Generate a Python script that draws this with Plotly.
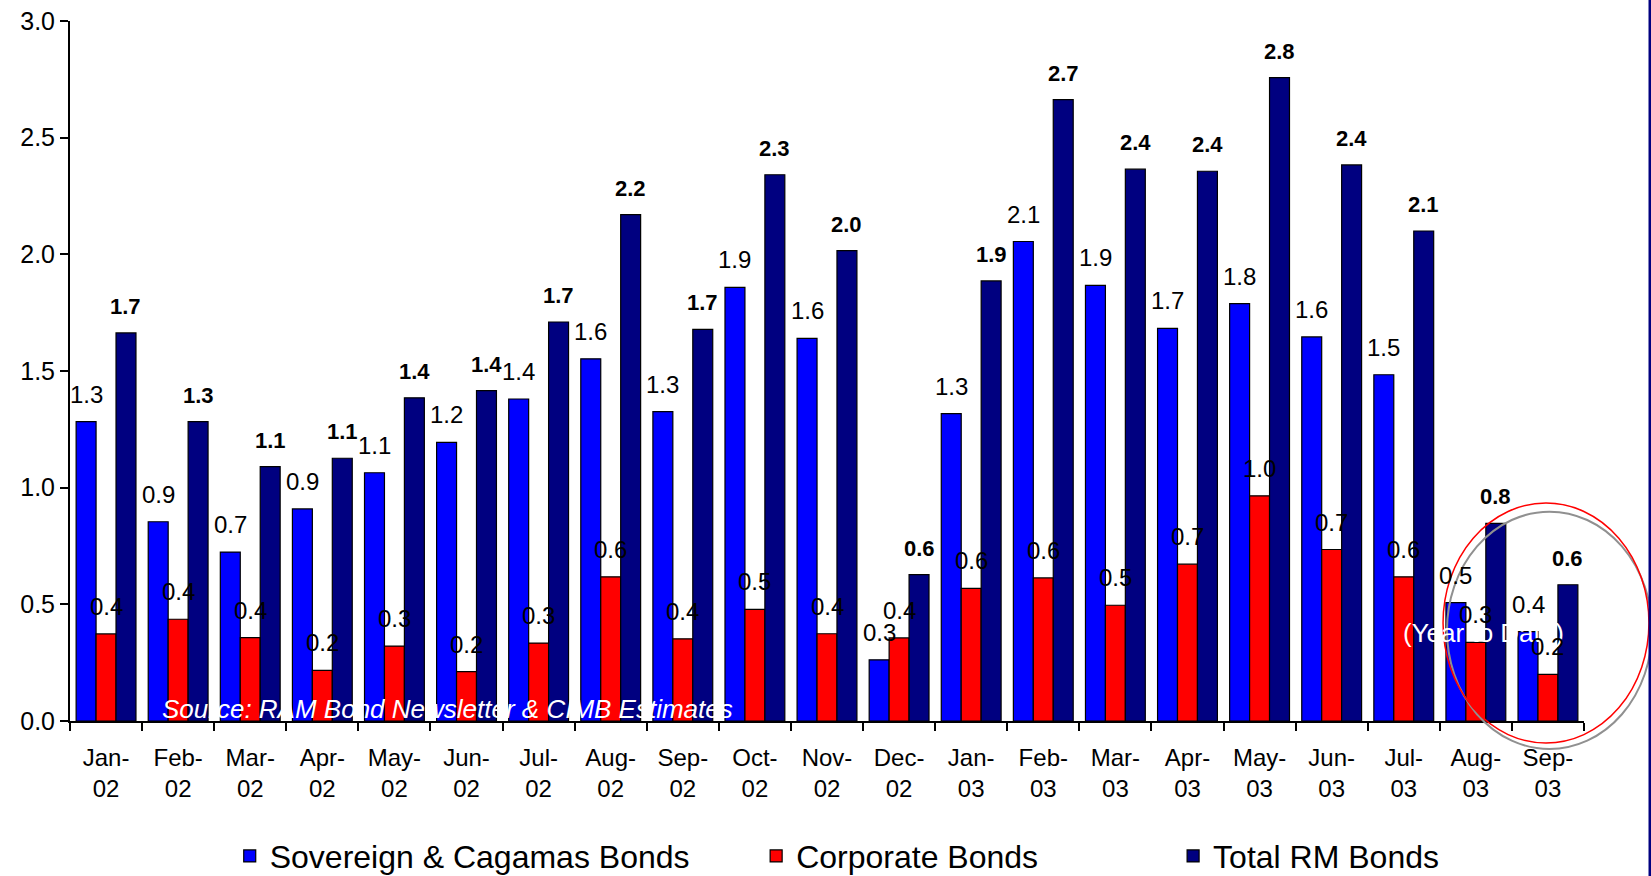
import plotly.graph_objects as go

# Monthly issuance of RM bonds (RM billion)
months = ["Jan-", "Feb-", "Mar-", "Apr-", "May-", "Jun-", "Jul-", "Aug-", "Sep-", "Oct-", "Nov-", "Dec-",
          "Jan-", "Feb-", "Mar-", "Apr-", "May-", "Jun-", "Jul-", "Aug-", "Sep-"]
years = ["02"] * 12 + ["03"] * 9
tick_labels = [f"{m}<br>{y}" for m, y in zip(months, years)]

sovereign = [1.283, 0.854, 0.724, 0.909, 1.064, 1.194, 1.380, 1.552, 1.326, 1.858, 1.640, 0.262,
             1.317, 2.055, 1.867, 1.683, 1.789, 1.646, 1.484, 0.507, 0.383]
corporate = [0.373, 0.436, 0.357, 0.217, 0.321, 0.212, 0.334, 0.618, 0.352, 0.478, 0.374, 0.356,
             0.568, 0.613, 0.496, 0.672, 0.965, 0.735, 0.618, 0.337, 0.200]
total_rm = [1.663, 1.283, 1.090, 1.126, 1.385, 1.416, 1.710, 2.170, 1.678, 2.341, 2.016, 0.627,
            1.886, 2.663, 2.365, 2.356, 2.757, 2.383, 2.100, 0.847, 0.584]

series = [
    ("Sovereign & Cagamas Bonds", sovereign, "#0000FF", "normal", 24, "legend"),
    ("Corporate Bonds", corporate, "#FF0000", "normal", 24, "legend2"),
    ("Total RM Bonds", total_rm, "#000080", "bold", 22, "legend3"),
]

FONT = "Liberation Sans, Arial, sans-serif"
W, H = 1651, 876
M_L, M_R, M_T, M_B = 70, 67, 21, 155
BARGAP = 0.17

idx = list(range(len(months)))
fig = go.Figure()

for name, vals, color, _, _, leg in series:
    fig.add_trace(go.Bar(
        x=idx, y=vals, name=name, legend=leg,
        marker=dict(color=color, line=dict(color="black", width=1.2)),
    ))

# "(Year to Date)" note, drawn under the value labels
fig.add_annotation(
    xref="paper", yref="paper", x=0.9333, y=0.1257, xanchor="center", yanchor="middle",
    text="(Year to Date)", showarrow=False,
    font=dict(family=FONT, size=26, color="white"),
)

# value labels above each bar
n = len(series)
bar_w = (1 - BARGAP) / n
for k, (name, vals, color, weight, fsize, _) in enumerate(series):
    offset = (k - (n - 1) / 2) * bar_w
    for i, v in zip(idx, vals):
        fig.add_annotation(
            x=i + offset, y=v, xref="x", yref="y",
            text=f"{v:.1f}", showarrow=False,
            xanchor="center", yanchor="bottom", yshift=12,
            font=dict(family=FONT, size=fsize, color="black", weight=weight),
        )

# source note along the base of the plot
fig.add_annotation(
    xref="paper", yref="paper", x=0.0594, y=0, xanchor="left", yanchor="bottom", yshift=-5,
    text="<i>Source: RAM Bond Newsletter & CIMB Estimates</i>", showarrow=False,
    font=dict(family=FONT, size=26, color="white"),
)

# highlight rings around the latest two months
fig.add_shape(type="circle", xref="paper", yref="paper",
              x0=0.9095, x1=1.0449, y0=-0.0400, y1=0.2990,
              line=dict(color="#909090", width=2))
fig.add_shape(type="circle", xref="paper", yref="paper",
              x0=0.9069, x1=1.0429, y0=-0.0314, y1=0.3114,
              line=dict(color="#FF0000", width=1.5))

# frame edge on the right
fig.add_shape(type="line", xref="paper", yref="paper",
              x0=1.0436, x1=1.0436, y0=-0.23, y1=1.04,
              line=dict(color="#000080", width=3))

legend_style = dict(orientation="h", yanchor="middle", y=-0.193, xanchor="left",
                    font=dict(family=FONT, size=32, color="black"),
                    bgcolor="rgba(0,0,0,0)")

fig.update_layout(
    width=W, height=H,
    margin=dict(l=M_L, r=M_R, t=M_T, b=M_B, autoexpand=False),
    paper_bgcolor="white", plot_bgcolor="white",
    barmode="group", bargap=BARGAP, bargroupgap=0,
    showlegend=True,
    legend=dict(legend_style, x=0.1055),
    legend2=dict(legend_style, x=0.4532),
    legend3=dict(legend_style, x=0.7286),
    font=dict(family=FONT, color="black"),
    xaxis=dict(
        range=[-0.5, len(months) - 0.5],
        tickmode="array", tickvals=idx, ticktext=tick_labels,
        ticks="", ticklabelstandoff=14,
        tickfont=dict(family=FONT, size=24, color="black"),
        minor=dict(tickmode="array", tickvals=[i - 0.5 for i in range(len(months) + 1)],
                   ticks="outside", ticklen=8, tickcolor="black", tickwidth=1.5, showgrid=False),
        showline=True, linecolor="black", linewidth=2,
        showgrid=False, zeroline=False, fixedrange=True,
    ),
    yaxis=dict(
        range=[0, 3], tickmode="linear", tick0=0, dtick=0.5, tickformat=".1f",
        ticks="outside", ticklen=8, tickcolor="black", tickwidth=1.5,
        tickfont=dict(family=FONT, size=25, color="black"),
        showline=True, linecolor="black", linewidth=2,
        showgrid=False, zeroline=False, fixedrange=True,
    ),
)

fig.write_html("out.html")
